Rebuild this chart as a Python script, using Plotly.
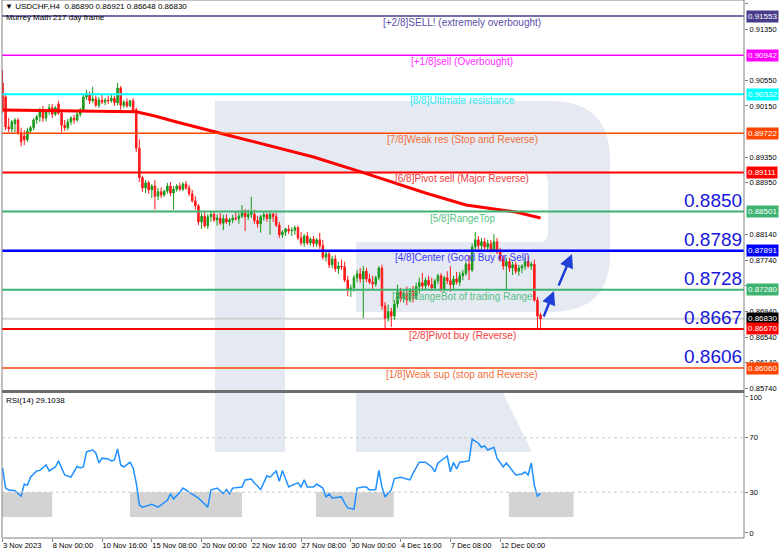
import plotly.graph_objects as go

# ---------------- data ----------------
bars = list(range(174))
opens = [.9051,.9029,.8982,.8979,.8987,.8993,.8973,.8968,.8962,.8976,
         .8981,.8993,.8998,.9006,.8996,.9006,.9012,.9002,.9018,.9004,
         .8985,.8981,.8990,.8996,.8993,.9002,.9009,.9029,.9034,.9023,
         .9026,.9016,.9024,.9021,.9024,.9023,.9027,.9020,.9043,.9016,
         .9021,.9015,.9023,.9009,.8949,.8903,.8887,.8895,.8884,.8890,
         .8874,.8881,.8876,.8882,.8890,.8879,.8885,.8890,.8885,.8893,
         .8887,.8878,.8867,.8859,.8834,.8843,.8828,.8842,.8846,.8837,
         .8840,.8832,.8839,.8834,.8837,.8840,.8839,.8843,.8848,.8842,
         .8846,.8846,.8836,.8831,.8842,.8845,.8839,.8846,.8842,.8829,
         .8814,.8818,.8823,.8820,.8821,.8825,.8809,.8801,.8812,.8801,
         .8807,.8800,.8806,.8797,.8779,.8784,.8767,.8776,.8761,.8765,
         .8764,.8743,.8728,.8731,.8747,.8753,.8745,.8757,.8745,.8740,
         .8737,.8747,.8762,.8703,.8684,.8694,.8687,.8706,.8725,.8714,
         .8722,.8712,.8726,.8715,.8733,.8739,.8734,.8743,.8736,.8731,
         .8742,.8750,.8729,.8747,.8742,.8736,.8745,.8740,.8750,.8754,
         .8768,.8759,.8795,.8806,.8797,.8803,.8795,.8800,.8790,.8803,
         .8787,.8776,.8765,.8772,.8762,.8767,.8757,.8762,.8765,.8772,
         .8765,.8768,.8712,.86890]
highs = [.9071,.9032,.8996,.8993,.8996,.8996,.8981,.8977,.8981,.8984,
         .8996,.9001,.9012,.9015,.9009,.9018,.9018,.9015,.9023,.9009,
         .8993,.8995,.8999,.9001,.9007,.9012,.9032,.9040,.9037,.9045,
         .9031,.9029,.9032,.9027,.9031,.9032,.9031,.9051,.9046,.9024,
         .9027,.9024,.9027,.9012,.8963,.8906,.8899,.8898,.8893,.8899,
         .8887,.8888,.8884,.8895,.8896,.8890,.8893,.8895,.8896,.8898,
         .8892,.8884,.8874,.8862,.8848,.8850,.8846,.8851,.8851,.8846,
         .8848,.8845,.8846,.8840,.8845,.8850,.8848,.8860,.8854,.8853,
         .8873,.8853,.8843,.8845,.8850,.8848,.8850,.8848,.8848,.8834,
         .8821,.8825,.8829,.8826,.8828,.8828,.8818,.8815,.8818,.8810,
         .8812,.8809,.8817,.8806,.8790,.8789,.8781,.8782,.8772,.8775,
         .8772,.8750,.8736,.8751,.8759,.8762,.8765,.8762,.8753,.8750,
         .8750,.8765,.8767,.8709,.8705,.8700,.8712,.8736,.8731,.8728,
         .8733,.8731,.8734,.8739,.8747,.8754,.8747,.8750,.8747,.8745,
         .8753,.8754,.8750,.8757,.8765,.8750,.8756,.8756,.8759,.8772,
         .8782,.8800,.8818,.8812,.8809,.8809,.8806,.8806,.8815,.8809,
         .8793,.8782,.8778,.8778,.8772,.8772,.8767,.8768,.8778,.8781,
         .8772,.8775,.8717,.86921]
lows = [.9004,.8977,.8974,.8973,.8974,.8970,.8952,.8954,.8959,.8971,
        .8977,.8987,.8990,.8990,.8991,.9001,.8996,.8999,.9001,.8974,
        .8976,.8977,.8985,.8987,.8990,.8998,.9006,.9024,.9018,.9020,
        .9013,.9012,.9018,.9016,.9018,.9020,.9015,.9016,.9009,.9012,
        .9012,.9013,.9006,.8943,.8896,.8881,.8879,.8878,.8871,.8853,
        .8868,.8871,.8873,.8878,.8874,.8853,.8881,.8882,.8882,.8884,
        .8874,.8864,.8853,.8829,.8823,.8825,.8823,.8834,.8834,.8828,
        .8829,.8821,.8831,.8828,.8832,.8836,.8831,.8840,.8820,.8837,
        .8840,.8831,.8825,.8817,.8836,.8834,.8814,.8834,.8826,.8809,
        .8809,.8812,.8815,.8812,.8814,.8806,.8797,.8795,.8798,.8797,
        .8795,.8795,.8792,.8775,.8772,.8762,.8762,.8756,.8753,.8759,
        .8740,.8718,.8717,.8725,.8740,.8739,.8684,.8740,.8737,.8728,
        .8733,.8743,.8697,.8665,.8678,.8670,.8681,.8700,.8709,.8708,
        .8704,.8709,.8708,.8712,.8722,.8728,.8729,.8733,.8726,.8728,
        .8737,.8725,.8725,.8737,.8725,.8728,.8736,.8734,.8743,.8750,
        .8743,.8756,.8787,.8790,.8787,.8790,.8787,.8786,.8787,.8784,
        .8772,.8759,.8728,.8756,.8751,.8753,.8750,.8754,.8759,.8762,
        .8759,.8709,.8667,.86648]
closes = [.9009,.8982,.8979,.8990,.8993,.8973,.8959,.8962,.8976,.8981,
          .8993,.8998,.9006,.8996,.9006,.9012,.9002,.9012,.9004,.8985,
          .8981,.8990,.8996,.8993,.9002,.9009,.9029,.9034,.9023,.9026,
          .9016,.9024,.9021,.9024,.9023,.9027,.9020,.9043,.9016,.9021,
          .9015,.9023,.9009,.8949,.8903,.8887,.8895,.8884,.8890,.8874,
          .8881,.8876,.8882,.8890,.8879,.8885,.8890,.8885,.8893,.8887,
          .8878,.8867,.8859,.8834,.8843,.8828,.8842,.8846,.8837,.8840,
          .8832,.8839,.8834,.8837,.8840,.8839,.8843,.8848,.8842,.8846,
          .8850,.8836,.8831,.8842,.8845,.8839,.8846,.8842,.8829,.8814,
          .8818,.8823,.8820,.8821,.8825,.8809,.8801,.8812,.8801,.8807,
          .8800,.8806,.8797,.8779,.8784,.8767,.8776,.8761,.8765,.8764,
          .8743,.8728,.8731,.8747,.8753,.8745,.8757,.8745,.8740,.8737,
          .8747,.8762,.8703,.8684,.8694,.8687,.8706,.8725,.8714,.8722,
          .8712,.8726,.8715,.8733,.8739,.8734,.8743,.8736,.8731,.8742,
          .8750,.8729,.8747,.8742,.8736,.8745,.8740,.8750,.8754,.8768,
          .8759,.8795,.8806,.8797,.8803,.8795,.8800,.8790,.8803,.8787,
          .8776,.8765,.8772,.8762,.8767,.8757,.8762,.8765,.8772,.8765,
          .8768,.8712,.8687,.86830]

ma_bar = [0, 43, 49, 56, 71, 89, 100, 116, 126, 136, 149, 158, 165, 173]
ma_val = [.90086, .90060, .89993, .89899, .89712, .89493, .89353, .89108,
          .88947, .88791, .88604, .88542, .88495, .88402]

rsi_bar = [0,1,2,4,6,7,8,9,11,12,14,15,17,18,20,21,22,24,25,26,27,29,30,31,32,34,35,36,37,38,39,
           41,42,43,44,45,47,48,50,52,53,54,55,57,58,60,63,66,67,69,71,72,73,74,77,78,80,81,83,85,
           86,88,89,90,92,93,95,96,97,98,100,101,103,104,105,106,109,110,111,113,114,116,117,118,
           120,121,122,123,125,126,128,131,132,134,136,138,139,140,141,143,144,145,146,147,150,151,
           153,154,155,156,158,159,161,162,165,167,168,169,170,171,172,173]
rsi_val = [47.8,33,31.6,31,27,36,35,41,45.6,46,50,45.6,48.5,53,42.6,42,41,49,47.8,48.5,59.6,61,58.8,
           51.5,55,54.4,53,53.7,61.8,50,48.5,52,47.8,36.8,20.6,19,20.6,21,19,22.8,24,28.7,25,30,33,
           30,25.7,19,31.6,33,29,32,28.7,33,33.8,39,39.7,36.8,32,42,41,45.6,38,46,33.8,35,36.8,33.8,
           39,33.8,33.8,36,33,26.5,28.7,25.7,26.5,22,18.4,17.6,33,33.8,33.8,31.6,32,46,33.8,26.5,
           31.6,40,41,39,44,52,52,48.5,45,51.5,53,56.6,45,52,47,52,53,69,66,63,64,61,63,55,48.5,
           51.5,42.6,43.4,44.8,42.6,51.5,35,27,29.1038]

# Murrey Math levels
lvl_price = [0.91553, 0.90942, 0.90332, 0.89722, 0.89111, 0.88501, 0.87891, 0.87280, 0.86670, 0.86060]
lvl_text = ["[+2/8]SELL! (extremely overbought)", "[+1/8]sell (Overbought)", "[8/8]Ultimate resistance",
            "[7/8]Weak res (Stop and Reverse)", "[6/8]Pivot sell (Major Reverse)", "[5/8]RangeTop",
            "[4/8]Center (Good Buy or Sell)", "[3/8]RangeBot of trading Range", "[2/8]Pivot buy (Reverse)",
            "[1/8]Weak sup (stop and Reverse)"]
lvl_color = ["#483D8B", "#FF00FF", "#00FFFF", "#FF4500", "#FF0000", "#3CB371", "#0000FF", "#3CB371",
             "#FF0000", "#FF4500"]
lvl_text_color = ["#5a50a8", "#ff30ff", "#30e8f0", "#f0703c", "#f03c3c", "#5cbf85", "#3c3cff", "#5cbf85",
                  "#f03c3c", "#f0703c"]
lvl_width = [1.5, 1.5, 2, 1.5, 2, 2, 2.5, 2, 2, 1.5]

big_price = [0.8850, 0.8789, 0.8728, 0.8667, 0.8606]
big_line = [0.88501, 0.87891, 0.87280, 0.86670, 0.86060]

current_price = 0.86830
price_ticks = [0.91750, 0.91350, 0.90550, 0.90150, 0.89350, 0.88950,
               0.88140, 0.87740, 0.87340, 0.86940, 0.86540, 0.86140, 0.85740]
x_tick_bars = [0, 16, 32, 48, 64, 80, 96, 112, 128, 144, 160]
x_tick_text = ["3 Nov 2023", "8 Nov 00:00", "10 Nov 16:00", "15 Nov 08:00", "20 Nov 00:00",
               "22 Nov 16:00", "27 Nov 08:00", "30 Nov 00:00", "4 Dec 16:00", "7 Dec 08:00",
               "12 Dec 00:00"]

# forecast arrows (bar, price) start -> end
arrow_from = [(173.8, 0.86841), (178.6, 0.87324)]
arrow_to = [(177.3, 0.87262), (183.1, 0.87839)]

# ---------------- geometry helpers ----------------
W, H = 782, 554
ML, MR, MT, MB = 2, 38, 0, 16
PW, PH = W - ML - MR, H - MT - MB


def px(x):
    return (x - ML) / PW


def py(y):
    return (PH + MT - y) / PH


FONT = "Liberation Sans, Arial, sans-serif"

fig = go.Figure()

fig.add_trace(go.Candlestick(
    x=bars, open=opens, high=highs, low=lows, close=closes,
    increasing=dict(line=dict(color="#1a9a1a", width=1), fillcolor="#1a9a1a"),
    decreasing=dict(line=dict(color="#ff1a1a", width=1), fillcolor="#ff1a1a"),
    whiskerwidth=0, showlegend=False, xaxis="x", yaxis="y", hoverinfo="skip"))

fig.add_trace(go.Scatter(x=ma_bar, y=ma_val, mode="lines",
                         line=dict(color="#ff0000", width=3), showlegend=False,
                         xaxis="x", yaxis="y", hoverinfo="skip"))

fig.add_trace(go.Scatter(x=rsi_bar, y=rsi_val, mode="lines",
                         line=dict(color="#1e90ff", width=1.5), showlegend=False,
                         xaxis="x", yaxis="y2", hoverinfo="skip"))

shapes = []
anns = []

# watermark "R" logo (light)
wm = "#e4e9f2"
shapes.append(dict(type="rect", xref="paper", yref="paper", x0=px(215), x1=px(285), y0=py(391), y1=py(101),
                   fillcolor=wm, line=dict(width=0), layer="below"))
shapes.append(dict(type="rect", xref="paper", yref="paper", x0=px(215), x1=px(285), y0=py(452), y1=py(393),
                   fillcolor=wm, line=dict(width=0), layer="below"))
path = "M %f,%f L %f,%f " % (px(285), py(101), px(550), py(101))
path += "Q %f,%f %f,%f " % (px(610), py(101), px(610), py(160))
path += "L %f,%f " % (px(610), py(255))
path += "Q %f,%f %f,%f " % (px(610), py(312), px(550), py(312))
path += "L %f,%f L %f,%f L %f,%f " % (px(356), py(312), px(356), py(242), px(540), py(242))
path += "Q %f,%f %f,%f " % (px(548), py(242), px(548), py(232))
path += "L %f,%f " % (px(548), py(183))
path += "Q %f,%f %f,%f " % (px(548), py(173), px(540), py(173))
path += "L %f,%f Z" % (px(285), py(173))
shapes.append(dict(type="path", xref="paper", yref="paper", path=path, fillcolor=wm,
                   line=dict(width=0), layer="below"))
leg = "M %f,%f L %f,%f L %f,%f L %f,%f Z" % (px(356), py(393), px(503), py(393), px(532), py(452),
                                              px(356), py(452))
shapes.append(dict(type="path", xref="paper", yref="paper", path=leg, fillcolor=wm,
                   line=dict(width=0), layer="below"))

# RSI oversold zones
for x0, x1 in [(-0.1, 16.0), (41.0, 77.0), (100.8, 125.8), (162.8, 183.6)]:
    shapes.append(dict(type="rect", xref="x", yref="y2", x0=x0, x1=x1, y0=11.8, y1=30,
                       fillcolor="#d3d3d3", line=dict(width=0), layer="below"))
for lv in [70, 30]:
    shapes.append(dict(type="line", xref="paper", yref="y2", x0=0, x1=1, y0=lv, y1=lv,
                       line=dict(color="#c8c8c8", width=1, dash="dot")))

# current price line
shapes.append(dict(type="line", xref="paper", yref="y", x0=0, x1=1, y0=current_price, y1=current_price,
                   line=dict(color="#d4d4d4", width=2), layer="below"))

# Murrey levels
for p, t, c, tc, w in zip(lvl_price, lvl_text, lvl_color, lvl_text_color, lvl_width):
    shapes.append(dict(type="line", xref="paper", yref="y", x0=0, x1=1, y0=p, y1=p,
                       line=dict(color=c, width=w)))
    anns.append(dict(xref="paper", yref="y", x=px(462), y=p, yanchor="top", xanchor="center", yshift=1,
                     text=t, showarrow=False, font=dict(family=FONT, size=10, color=tc)))

# big numbers
for v, p in zip(big_price, big_line):
    anns.append(dict(xref="paper", yref="y", x=px(744), y=p, xanchor="right", yanchor="bottom", yshift=-1,
                     text="%.4f" % v, showarrow=False,
                     font=dict(family=FONT, size=19, color="#1616d8")))

# right price boxes
box_prices = lvl_price[:8] + [current_price] + lvl_price[8:]
box_colors = lvl_color[:8] + ["#000000"] + lvl_color[8:]
for p, c in zip(box_prices, box_colors):
    anns.append(dict(xref="paper", yref="y", x=1, y=p, xanchor="left", yanchor="middle", xshift=2,
                     text="%.5f" % p, showarrow=False, bgcolor=c, borderpad=1,
                     font=dict(family=FONT, size=8, color="#ffffff")))

# arrows
for (sx, sy), (ex, ey) in zip(arrow_from, arrow_to):
    anns.append(dict(x=ex, y=ey, ax=sx, ay=sy, xref="x", yref="y", axref="x", ayref="y",
                     showarrow=True, arrowhead=2, arrowsize=1.1, arrowwidth=2.5,
                     arrowcolor="#1f3fd6", text=""))

# header texts
anns.append(dict(xref="paper", yref="paper", x=px(3), y=py(6), xanchor="left", yanchor="middle",
                 text="▼ USDCHF,H4  0.86890 0.86921 0.86648 0.86830", showarrow=False,
                 font=dict(family=FONT, size=8, color="#000000")))
anns.append(dict(xref="paper", yref="paper", x=px(4), y=py(17), xanchor="left", yanchor="middle",
                 text="Murrey Math 217 day frame", showarrow=False,
                 font=dict(family=FONT, size=8, color="#000000")))
anns.append(dict(xref="paper", yref="paper", x=px(4), y=py(400), xanchor="left", yanchor="middle",
                 text="RSI(14) 29.1038", showarrow=False,
                 font=dict(family=FONT, size=8, color="#000000")))

# frames
shapes.append(dict(type="rect", xref="paper", yref="paper", x0=0, x1=1, y0=0, y1=1,
                   line=dict(color="#808080", width=1)))
shapes.append(dict(type="line", xref="paper", yref="paper", x0=0, x1=1, y0=py(391.5), y1=py(391.5),
                   line=dict(color="#6e6e6e", width=3)))

fig.update_layout(
    width=W, height=H, margin=dict(l=ML, r=MR, t=MT, b=MB),
    paper_bgcolor="white", plot_bgcolor="white", showlegend=False,
    shapes=shapes, annotations=anns,
    xaxis=dict(domain=[0, 1], range=[-0.16, 238.4], anchor="y2", rangeslider=dict(visible=False),
               tickmode="array", tickvals=x_tick_bars, ticktext=x_tick_text, ticks="outside",
               ticklen=3, tickcolor="#808080", ticklabelposition="outside right", tickangle=0,
               tickfont=dict(family=FONT, size=7.5, color="#000000"), showgrid=False, zeroline=False,
               showline=False, automargin=False),
    yaxis=dict(domain=[py(391), 1], range=[0.857011, 0.918027], side="right", anchor="x",
               tickmode="array", tickvals=price_ticks, ticktext=["%.5f" % t for t in price_ticks],
               ticks="outside", ticklen=3, tickcolor="#808080",
               tickfont=dict(family=FONT, size=7.5, color="#000000"), showgrid=False, zeroline=False,
               automargin=False),
    yaxis2=dict(domain=[0, py(393)], range=[-3.7, 102.9], side="right", anchor="x",
                tickmode="array", tickvals=[0, 30, 70, 100], ticks="outside", ticklen=3,
                tickcolor="#808080", tickfont=dict(family=FONT, size=7.5, color="#000000"),
                showgrid=False, zeroline=False, automargin=False),
)

fig.write_html("out.html", config={"displayModeBar": False},
               post_script="document.body.style.margin='0px';document.body.style.overflow='hidden';")
